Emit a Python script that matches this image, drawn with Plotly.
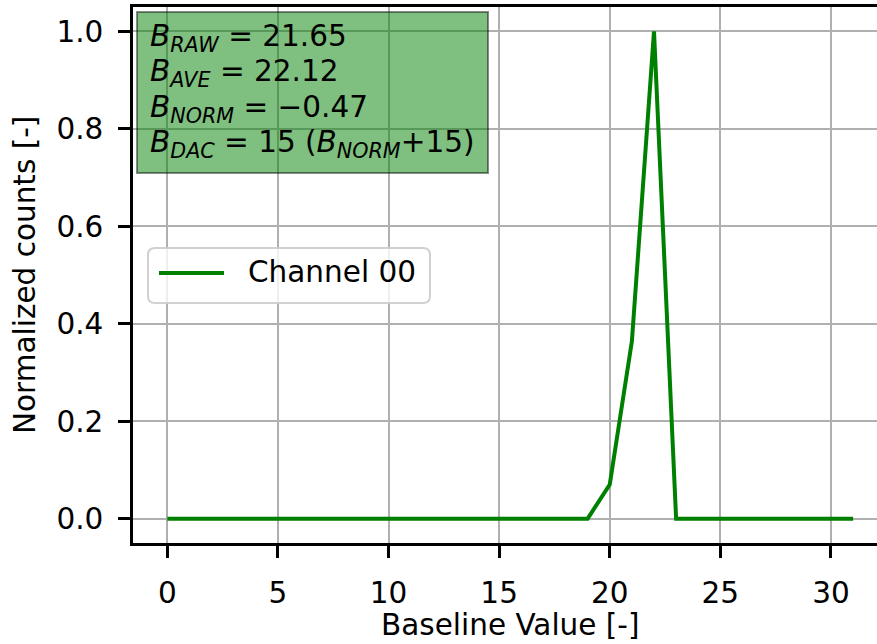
import plotly.graph_objects as go

# Baseline histogram for one channel (normalized counts per baseline value)
baseline_values = list(range(32))
normalized_counts = [0, 0, 0, 0, 0, 0, 0, 0, 0, 0,
                     0, 0, 0, 0, 0, 0, 0, 0, 0, 0,
                     0.07, 0.364, 1.0, 0, 0, 0, 0, 0, 0, 0,
                     0, 0]
channel_name = "Channel 00"

# Summary statistics shown in the info box
b_raw = 21.65
b_ave = 22.12
b_norm = -0.47
b_dac = 15
dac_offset = 15

x_ticks = [0, 5, 10, 15, 20, 25, 30]
y_ticks = [0.0, 0.2, 0.4, 0.6, 0.8, 1.0]
x_title = "Baseline Value [-]"
y_title = "Normalized counts [-]"

W, H = 877, 644
PL, PR, PT, PB = 133, 877, 7, 543   # plot area edges in pixels
FONT = "DejaVu Sans, Liberation Sans, sans-serif"
FS = 29.5
GREEN = "#008000"


def fx(p):
    return (p - PL) / (PR - PL)


def fy(p):
    return (PB - p) / (PB - PT)


fig = go.Figure()
fig.add_trace(go.Scatter(
    x=baseline_values, y=normalized_counts, mode="lines",
    line=dict(color=GREEN, width=4), name=channel_name, showlegend=False,
))

fig.update_layout(
    xaxis=dict(
        range=[-1.55, 32.08], tickvals=x_ticks,
        showline=True, linecolor="black", linewidth=2.5, mirror=True,
        ticks="outside", ticklen=12, tickwidth=2.5, tickcolor="black",
        ticklabelstandoff=10,
        showgrid=True, gridcolor="#b0b0b0", gridwidth=2, zeroline=False,
        tickfont=dict(family=FONT, size=FS, color="black"),
        automargin=False,
    ),
    yaxis=dict(
        range=[-0.05, 1.05], tickvals=y_ticks, tickformat=".1f",
        showline=True, linecolor="black", linewidth=2.5, mirror=False,
        ticks="outside", ticklen=12, tickwidth=2.5, tickcolor="black",
        ticklabelstandoff=9,
        showgrid=True, gridcolor="#b0b0b0", gridwidth=2, zeroline=False,
        tickfont=dict(family=FONT, size=FS, color="black"),
        automargin=False,
    ),
)

# Axis titles
fig.add_annotation(
    xref="paper", yref="paper", x=fx(510), y=fy(625),
    xanchor="center", yanchor="middle", showarrow=False,
    text=x_title, font=dict(family=FONT, size=FS, color="black"),
)
fig.add_annotation(
    xref="paper", yref="paper", x=fx(25), y=fy(275),
    xanchor="center", yanchor="middle", showarrow=False, textangle=-90,
    text=y_title, font=dict(family=FONT, size=FS, color="black"),
)

# Info box
info_lines = [
    f"<i>B</i><sub><i>RAW</i></sub> = {b_raw:.2f}",
    f"<i>B</i><sub><i>AVE</i></sub> = {b_ave:.2f}",
    f"<i>B</i><sub><i>NORM</i></sub> = \u2212{abs(b_norm):.2f}",
    f"<i>B</i><sub><i>DAC</i></sub> = {b_dac} (<i>B</i><sub><i>NORM</i></sub>+{dac_offset})",
]
fig.add_shape(
    type="rect", xref="paper", yref="paper",
    x0=fx(137), x1=fx(488), y0=fy(173), y1=fy(12),
    fillcolor="rgba(0,128,0,0.5)", line=dict(color="rgba(0,0,0,0.45)", width=2),
    layer="above",
)
line_centers = [35, 70.3, 105.6, 141]
for txt, yc in zip(info_lines, line_centers):
    fig.add_annotation(
        xref="paper", yref="paper", x=fx(148), y=fy(yc + 3),
        xanchor="left", yanchor="middle", align="left", showarrow=False,
        text=txt, font=dict(family=FONT, size=FS, color="black"),
    )

# Legend
r = 7
lx0, lx1, ly0, ly1 = fx(148), fx(430), fy(303), fy(248)
rx = r / (PR - PL)
ry = r / (PB - PT)
legend_path = (
    f"M {lx0 + rx},{ly1} L {lx1 - rx},{ly1} Q {lx1},{ly1} {lx1},{ly1 - ry} "
    f"L {lx1},{ly0 + ry} Q {lx1},{ly0} {lx1 - rx},{ly0} "
    f"L {lx0 + rx},{ly0} Q {lx0},{ly0} {lx0},{ly0 + ry} "
    f"L {lx0},{ly1 - ry} Q {lx0},{ly1} {lx0 + rx},{ly1} Z"
)
fig.add_shape(
    type="path", xref="paper", yref="paper", path=legend_path,
    fillcolor="rgba(255,255,255,0.8)", line=dict(color="rgba(204,204,204,0.9)", width=2),
    layer="above",
)
fig.add_shape(
    type="line", xref="paper", yref="paper",
    x0=fx(159), x1=fx(224), y0=fy(273), y1=fy(273),
    line=dict(color=GREEN, width=4), layer="above",
)
fig.add_annotation(
    xref="paper", yref="paper", x=fx(246), y=fy(272),
    xanchor="left", yanchor="middle", showarrow=False,
    text=channel_name, font=dict(family=FONT, size=FS, color="black"),
)

fig.update_layout(
    width=W, height=H,
    margin=dict(l=PL, r=W - PR, t=PT, b=H - PB),
    paper_bgcolor="white", plot_bgcolor="white",
    font=dict(family=FONT, color="black"),
)

fig.write_html("out.html")
